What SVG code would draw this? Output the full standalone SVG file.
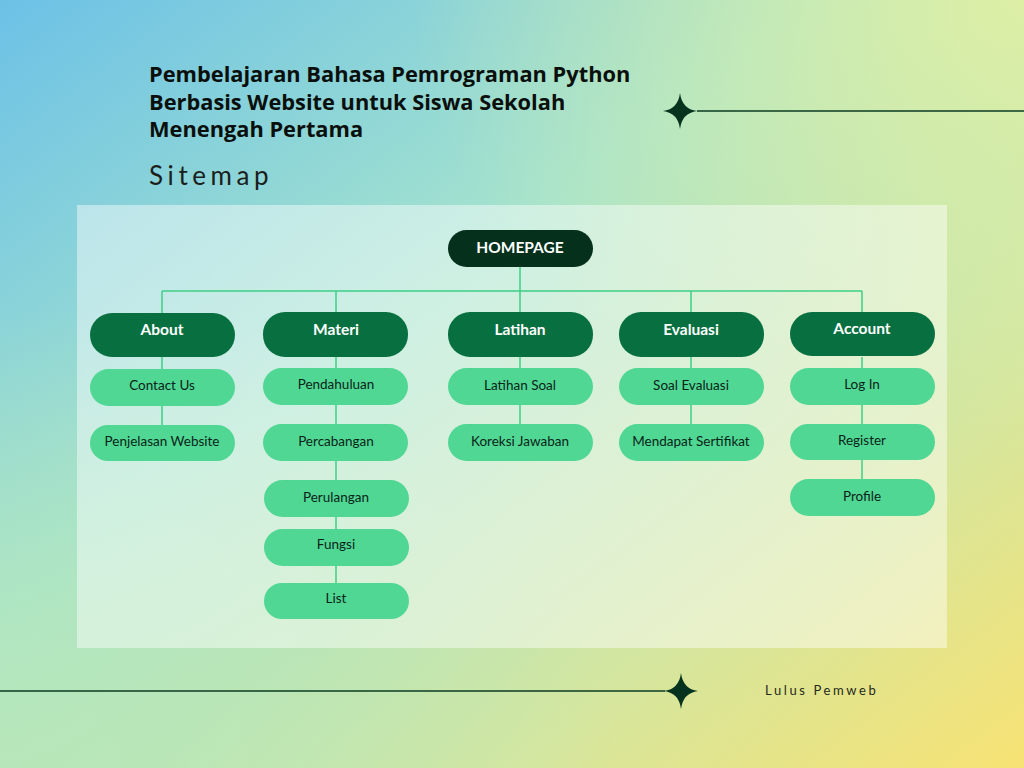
<svg xmlns="http://www.w3.org/2000/svg" width="1024" height="768" viewBox="0 0 1024 768">
<defs>
<linearGradient id="bg" x1="0" y1="0" x2="1" y2="1">
<stop offset="0" stop-color="#6cc1e6"/>
<stop offset="0.4" stop-color="#a5e3cd"/>
<stop offset="0.75" stop-color="#d5e69e"/>
<stop offset="1" stop-color="#f7e273"/>
</linearGradient>
<radialGradient id="tr" cx="1" cy="0" r="0.6">
<stop offset="0" stop-color="#e2f0a2" stop-opacity="0.9"/>
<stop offset="1" stop-color="#e2f0a2" stop-opacity="0"/>
</radialGradient>
<radialGradient id="bl" cx="0" cy="1" r="0.6">
<stop offset="0" stop-color="#b8e8b8" stop-opacity="0.8"/>
<stop offset="1" stop-color="#b8e8b8" stop-opacity="0"/>
</radialGradient>
<path id="star" d="M0,-18 Q2,-2 17,0 Q2,2 0,18 Q-2,2 -17,0 Q-2,-2 0,-18 Z"/>
</defs>
<style>
.txt{font-family:Lato,"Noto Sans",sans-serif}
.title{font-family:"Open Sans","Noto Sans",sans-serif;font-weight:700;font-size:21.8px;fill:#0a0f0c}
.cat rect{fill:#087040}
.cat text{font-family:Lato,"Noto Sans",sans-serif;font-weight:700;font-size:15.5px;fill:#ffffff;text-anchor:middle}
.leaf rect{fill:#50d794}
.leaf text{font-family:Lato,"Noto Sans",sans-serif;font-size:13.5px;fill:#0c2418;text-anchor:middle}
.conn{stroke:#3ccf86;stroke-width:1.5;fill:none}
.deco{stroke:#0b3b22;stroke-width:1.5}
</style>
<rect width="1024" height="768" fill="url(#bg)"/>
<rect width="1024" height="768" fill="url(#tr)"/>
<rect width="1024" height="768" fill="url(#bl)"/>

<text class="title" x="149" y="82">Pembelajaran Bahasa Pemrograman Python</text>
<text class="title" x="149" y="110">Berbasis Website untuk Siswa Sekolah</text>
<text class="title" x="149" y="137">Menengah Pertama</text>
<text class="txt" x="149" y="185" font-size="26" letter-spacing="4.6" fill="#1a1f1c">Sitemap</text>

<g id="deco-top">
<line class="deco" x1="697" y1="111" x2="1024" y2="111"/>
<use href="#star" x="680" y="111" fill="#06331d"/>
</g>
<g id="deco-bottom">
<line class="deco" x1="0" y1="691" x2="665" y2="691"/>
<use href="#star" x="681" y="691" fill="#06331d"/>
</g>
<text class="txt" x="765" y="695" font-size="13" letter-spacing="2.6" fill="#1f2a20">Lulus Pemweb</text>

<rect id="panel" x="77" y="205" width="870" height="443" fill="#ffffff" fill-opacity="0.45"/>

<g id="connectors" class="conn">
<line x1="520" y1="267" x2="520" y2="313"/>
<line x1="162" y1="291" x2="862" y2="291"/>
<line x1="162" y1="291" x2="162" y2="313"/>
<line x1="336" y1="291" x2="336" y2="313"/>
<line x1="691" y1="291" x2="691" y2="313"/>
<line x1="862" y1="291" x2="862" y2="313"/>
<line x1="162" y1="357" x2="162" y2="425"/>
<line x1="336" y1="357" x2="336" y2="583"/>
<line x1="520" y1="357" x2="520" y2="425"/>
<line x1="691" y1="357" x2="691" y2="425"/>
<line x1="862" y1="357" x2="862" y2="480"/>
</g>

<g id="homepage"><rect x="448" y="230" width="145" height="37" rx="18.5" fill="#04301c"/><text x="520" y="253" font-family="Lato,'Noto Sans',sans-serif" font-weight="700" font-size="15.5" fill="#ffffff" text-anchor="middle">HOMEPAGE</text></g>

<g id="about" class="cat"><rect x="90" y="313" width="145" height="44" rx="22"/><text x="162" y="335">About</text></g>
<g id="materi" class="cat"><rect x="263" y="312" width="145" height="45" rx="22"/><text x="336" y="335">Materi</text></g>
<g id="latihan" class="cat"><rect x="448" y="312" width="145" height="45" rx="22"/><text x="520" y="335">Latihan</text></g>
<g id="evaluasi" class="cat"><rect x="619" y="312" width="145" height="45" rx="22"/><text x="691" y="335">Evaluasi</text></g>
<g id="account" class="cat"><rect x="790" y="312" width="145" height="44" rx="22"/><text x="862" y="334">Account</text></g>

<g id="contact-us" class="leaf"><rect x="90" y="369" width="145" height="37" rx="18.5"/><text x="162" y="390">Contact Us</text></g>
<g id="penjelasan-website" class="leaf"><rect x="90" y="425" width="145" height="36" rx="18"/><text x="162" y="446">Penjelasan Website</text></g>

<g id="pendahuluan" class="leaf"><rect x="263" y="368" width="145" height="37" rx="18.5"/><text x="336" y="389">Pendahuluan</text></g>
<g id="percabangan" class="leaf"><rect x="263" y="424" width="145" height="37" rx="18.5"/><text x="336" y="446">Percabangan</text></g>
<g id="perulangan" class="leaf"><rect x="264" y="480" width="145" height="37" rx="18.5"/><text x="336" y="502">Perulangan</text></g>
<g id="fungsi" class="leaf"><rect x="264" y="529" width="145" height="37" rx="18.5"/><text x="336" y="549">Fungsi</text></g>
<g id="list" class="leaf"><rect x="264" y="583" width="145" height="36" rx="18"/><text x="336" y="603">List</text></g>

<g id="latihan-soal" class="leaf"><rect x="448" y="368" width="145" height="37" rx="18.5"/><text x="520" y="390">Latihan Soal</text></g>
<g id="koreksi-jawaban" class="leaf"><rect x="448" y="424" width="145" height="37" rx="18.5"/><text x="520" y="446">Koreksi Jawaban</text></g>

<g id="soal-evaluasi" class="leaf"><rect x="619" y="368" width="145" height="37" rx="18.5"/><text x="691" y="390">Soal Evaluasi</text></g>
<g id="mendapat-sertifikat" class="leaf"><rect x="619" y="424" width="145" height="37" rx="18.5"/><text x="691" y="446">Mendapat Sertifikat</text></g>

<g id="log-in" class="leaf"><rect x="790" y="368" width="145" height="37" rx="18.5"/><text x="862" y="389">Log In</text></g>
<g id="register" class="leaf"><rect x="790" y="424" width="145" height="36" rx="18"/><text x="862" y="445">Register</text></g>
<g id="profile" class="leaf"><rect x="790" y="479" width="145" height="37" rx="18.5"/><text x="862" y="501">Profile</text></g>
</svg>
